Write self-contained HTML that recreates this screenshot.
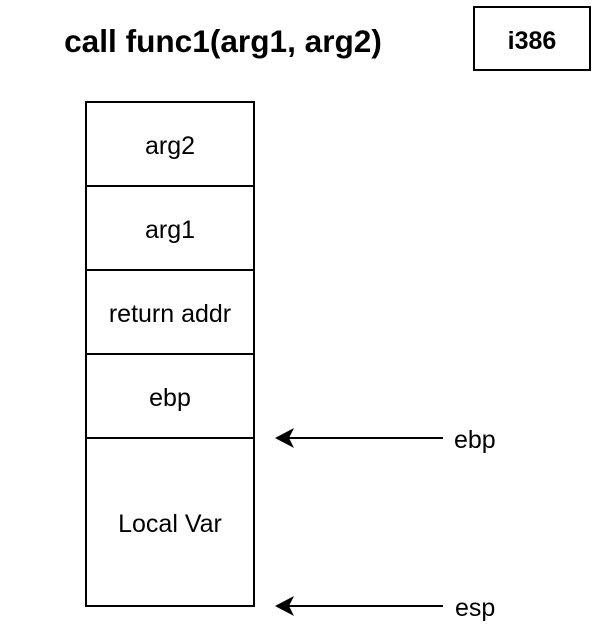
<!DOCTYPE html>
<html><head><style>
body{margin:0;background:#fff;width:616px;height:638px;overflow:hidden}
svg text{font-family:"Liberation Sans",sans-serif}
</style></head><body>
<svg width="616" height="638" xmlns="http://www.w3.org/2000/svg">
<text x="223" y="52" font-size="31.6" font-weight="bold" text-anchor="middle">call func1(arg1, arg2)</text>
<rect x="474" y="7" width="116" height="63" fill="#fff" stroke="#000" stroke-width="2"/>
<text x="532" y="49" font-size="25" font-weight="bold" text-anchor="middle">i386</text>
<g fill="#fff" stroke="#000" stroke-width="2">
<rect x="86" y="102" width="168" height="84"/>
<rect x="86" y="186" width="168" height="84"/>
<rect x="86" y="270" width="168" height="84"/>
<rect x="86" y="354" width="168" height="84"/>
<rect x="86" y="438" width="168" height="168"/>
</g>
<g font-size="25" text-anchor="middle">
<text x="170" y="154">arg2</text>
<text x="170" y="238">arg1</text>
<text x="170" y="322">return addr</text>
<text x="170" y="406">ebp</text>
<text x="170" y="532">Local Var</text>
</g>
<g stroke="#000" stroke-width="2">
<line x1="443" y1="438" x2="285" y2="438"/>
<line x1="443" y1="606" x2="285" y2="606"/>
</g>
<path d="M275 438 L294 428 L289 438 L294 448 Z"/>
<path d="M275 606 L294 596 L289 606 L294 616 Z"/>
<text x="454" y="448" font-size="25">ebp</text>
<text x="455" y="616" font-size="25">esp</text>
</svg>
</body></html>
